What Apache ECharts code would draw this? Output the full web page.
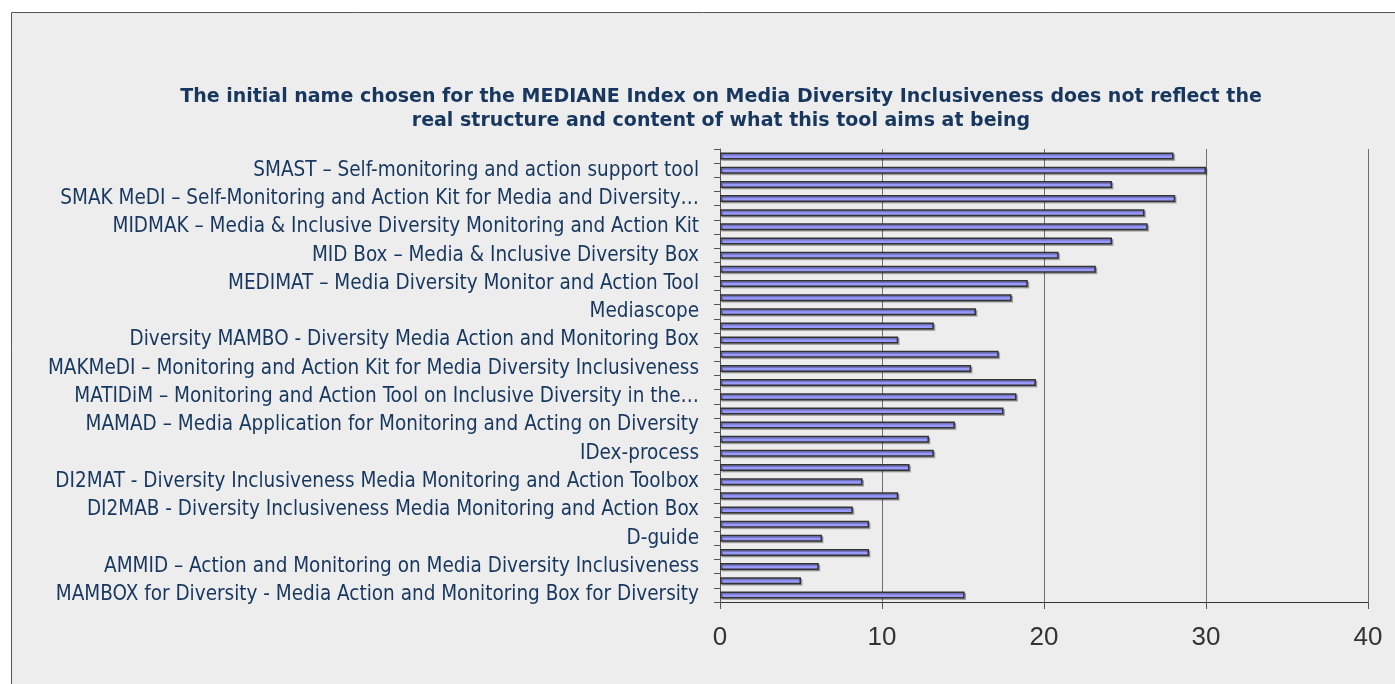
<!DOCTYPE html>
<html>
<head>
<meta charset="utf-8">
<script src="https://cdn.jsdelivr.net/npm/echarts@6/dist/echarts.min.js"></script>
<style>
html,body{margin:0;padding:0;background:#ffffff;}
#chart{width:1395px;height:684px;}
</style>
</head>
<body>
<div id="chart"></div>
<script>
// Categories listed bottom-to-top (index 0 = bottom bar); unlabeled bars have empty names
const categories = [
  'MAMBOX for Diversity - Media Action and Monitoring Box for Diversity',
  '',
  'AMMID – Action and Monitoring on Media Diversity Inclusiveness',
  '',
  'D-guide',
  '',
  'DI2MAB - Diversity Inclusiveness Media Monitoring and Action Box',
  '',
  'DI2MAT - Diversity Inclusiveness Media Monitoring and Action Toolbox',
  '',
  'IDex-process',
  '',
  'MAMAD – Media Application for Monitoring and Acting on Diversity',
  '',
  'MATIDiM – Monitoring and Action Tool on Inclusive Diversity in the…',
  '',
  'MAKMeDI – Monitoring and Action Kit for Media Diversity Inclusiveness',
  '',
  'Diversity MAMBO - Diversity Media Action and Monitoring Box',
  '',
  'Mediascope',
  '',
  'MEDIMAT – Media Diversity Monitor and Action Tool',
  '',
  'MID Box – Media & Inclusive Diversity Box',
  '',
  'MIDMAK – Media & Inclusive Diversity Monitoring and Action Kit',
  '',
  'SMAK MeDI – Self-Monitoring and Action Kit for Media and Diversity…',
  '',
  'SMAST – Self-monitoring and action support tool',
  ''
];
const values = [
  15.1, 5.0, 6.1, 9.2, 6.3, 9.2, 8.2, 11.0, 8.8, 11.7,
  13.2, 12.9, 14.5, 17.5, 18.3, 19.5, 15.5, 17.2, 11.0, 13.2,
  15.8, 18.0, 19.0, 23.2, 20.9, 24.2, 26.4, 26.2, 28.1, 24.2,
  30.0, 28.0
];
const xTicks = { min: 0, max: 40, interval: 10 };
const titleText = 'The initial name chosen for the MEDIANE Index on Media Diversity Inclusiveness does not reflect the\nreal structure and content of what this tool aims at being';

const chart = echarts.init(document.getElementById('chart'), null, { renderer: 'canvas' });
chart.setOption({
  backgroundColor: '#ffffff',
  animation: false,
  graphic: [{
    type: 'rect',
    z: -10,
    silent: true,
    shape: { x: 11.5, y: 12.5, width: 1400, height: 700 },
    style: { fill: '#EDEDED', stroke: '#555555', lineWidth: 1 }
  }],
  title: {
    text: titleText,
    left: 716,
    top: 80,
    textAlign: 'center',
    textStyle: {
      fontFamily: 'DejaVu Sans',
      fontWeight: 'bold',
      fontSize: 19,
      lineHeight: 24,
      color: '#17375E'
    }
  },
  grid: { left: 720, right: 27, top: 149, bottom: 82, containLabel: false },
  xAxis: {
    type: 'value',
    min: xTicks.min,
    max: xTicks.max,
    interval: xTicks.interval,
    axisLine: { show: true, lineStyle: { color: '#333333', width: 1 } },
    axisTick: { show: true, length: 7, lineStyle: { color: '#555555' } },
    axisLabel: {
      margin: 23,
      fontFamily: 'Liberation Sans, Arial, sans-serif',
      fontSize: 26,
      color: '#333333'
    },
    splitLine: { show: true, lineStyle: { color: '#6f6f6f', width: 1 } }
  },
  yAxis: {
    type: 'category',
    data: categories,
    axisLine: { show: true, lineStyle: { color: '#555555', width: 1 } },
    axisTick: { show: true, length: 6, interval: 0, lineStyle: { color: '#555555' } },
    axisLabel: {
      interval: 1,
      margin: 21,
      fontFamily: 'DejaVu Sans Condensed, DejaVu Sans, sans-serif',
      fontSize: 20.5,
      color: '#17375E'
    },
    splitLine: { show: false }
  },
  series: [{
    type: 'bar',
    data: values,
    barWidth: 7,
    itemStyle: {
      color: '#9999FF',
      borderColor: '#333333',
      borderWidth: 1.5,
      shadowColor: 'rgba(0,0,0,0.25)',
      shadowOffsetX: 1.5,
      shadowOffsetY: 1.5,
      shadowBlur: 0
    }
  }]
});
</script>
</body>
</html>
